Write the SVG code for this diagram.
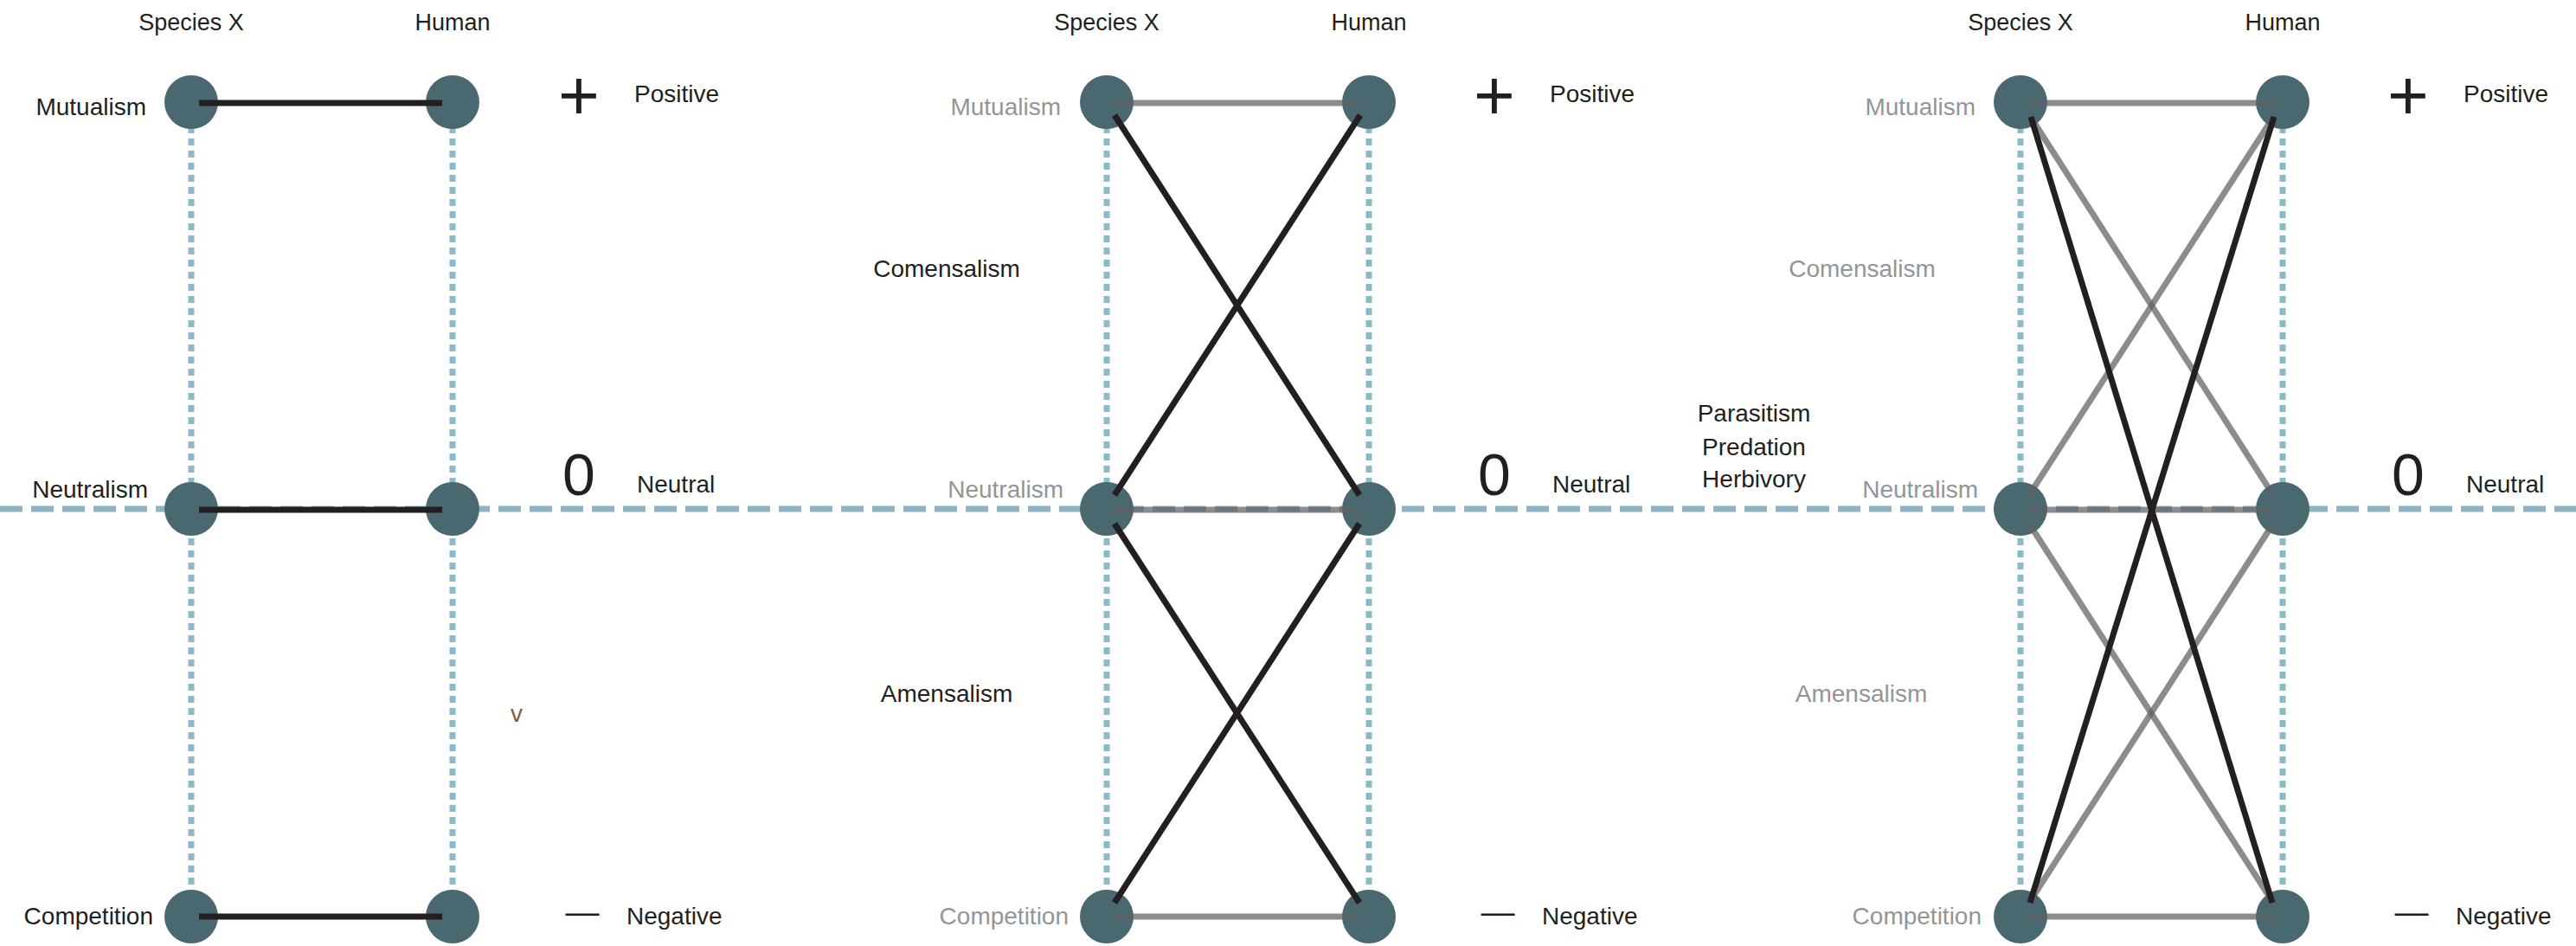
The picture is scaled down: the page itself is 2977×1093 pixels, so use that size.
<svg xmlns="http://www.w3.org/2000/svg" width="2977" height="1093" viewBox="0 0 2977 1093">
<style>
text{font-family:"Liberation Sans",Arial,sans-serif;fill:#231f20}
.hd{font-size:27px;text-anchor:middle}
.lb{font-size:28px;text-anchor:end}
.lbm{font-size:28px;text-anchor:middle}
.g{fill:#939598}
.rt{font-size:28px}
.sym{text-anchor:middle}
.node{fill:#4a6870}
.vdot{stroke:#8bbacb;stroke-width:7;stroke-dasharray:8 6;fill:none}
.hdash{stroke:#8fb4c1;stroke-width:7;stroke-dasharray:26 10;fill:none}
.blk{stroke:#231f20;stroke-width:7;fill:none}
.gry{stroke:#5f6062;stroke-opacity:0.72;stroke-width:7;fill:none}
</style>
<rect width="2977" height="1093" fill="#ffffff"/>
<g id="guides">
<line class="hdash" x1="0" y1="588" x2="2977" y2="588"/>
<line class="vdot" x1="221" y1="118" x2="221" y2="1059"/>
<line class="vdot" x1="523" y1="118" x2="523" y2="1059"/>
<line class="vdot" x1="1279" y1="118" x2="1279" y2="1059"/>
<line class="vdot" x1="1582" y1="118" x2="1582" y2="1059"/>
<line class="vdot" x1="2335" y1="118" x2="2335" y2="1059"/>
<line class="vdot" x1="2638" y1="118" x2="2638" y2="1059"/>
</g>
<g id="headers">
<text class="hd" x="221" y="35">Species X</text>
<text class="hd" x="523" y="35">Human</text>
<text class="hd" x="1279" y="35">Species X</text>
<text class="hd" x="1582" y="35">Human</text>
<text class="hd" x="2335" y="35">Species X</text>
<text class="hd" x="2638" y="35">Human</text>
</g>
<g id="scale1">
<text class="sym" x="669" y="138" font-size="82">+</text>
<text class="rt" x="733" y="118">Positive</text>
<text class="sym" x="669" y="572" font-size="68">0</text>
<text class="rt" x="736" y="569">Neutral</text>
<text class="sym" x="673" y="1067" font-size="39">—</text>
<text class="rt" x="724" y="1068">Negative</text>
</g>
<g id="scale2">
<text class="sym" x="1727" y="138" font-size="82">+</text>
<text class="rt" x="1791" y="118">Positive</text>
<text class="sym" x="1727" y="572" font-size="68">0</text>
<text class="rt" x="1794" y="569">Neutral</text>
<text class="sym" x="1731" y="1067" font-size="39">—</text>
<text class="rt" x="1782" y="1068">Negative</text>
</g>
<g id="scale3">
<text class="sym" x="2783" y="138" font-size="82">+</text>
<text class="rt" x="2847" y="118">Positive</text>
<text class="sym" x="2783" y="572" font-size="68">0</text>
<text class="rt" x="2850" y="569">Neutral</text>
<text class="sym" x="2787" y="1067" font-size="39">—</text>
<text class="rt" x="2838" y="1068">Negative</text>
</g>
<g id="p1-mutualism-x"><circle class="node" cx="221" cy="118" r="31"/><text class="lb" x="169" y="133">Mutualism</text></g>
<g id="p1-mutualism-h"><circle class="node" cx="523" cy="118" r="31"/></g>
<g id="p1-neutralism-x"><circle class="node" cx="221" cy="588" r="31"/><text class="lb" x="171" y="575">Neutralism</text></g>
<g id="p1-neutralism-h"><circle class="node" cx="523" cy="588" r="31"/></g>
<g id="p1-competition-x"><circle class="node" cx="221" cy="1059" r="31"/><text class="lb" x="177" y="1068">Competition</text></g>
<g id="p1-competition-h"><circle class="node" cx="523" cy="1059" r="31"/></g>
<text x="597" y="834" font-size="28" style="fill:#8a5a40;text-anchor:middle">v</text>
<g id="p2-mutualism-x"><circle class="node" cx="1279" cy="118" r="31"/><text class="lb g" x="1226" y="133">Mutualism</text></g>
<g id="p2-mutualism-h"><circle class="node" cx="1582" cy="118" r="31"/></g>
<g id="p2-neutralism-x"><circle class="node" cx="1279" cy="588" r="31"/><text class="lb g" x="1229" y="575">Neutralism</text></g>
<g id="p2-neutralism-h"><circle class="node" cx="1582" cy="588" r="31"/></g>
<g id="p2-competition-x"><circle class="node" cx="1279" cy="1059" r="31"/><text class="lb g" x="1235" y="1068">Competition</text></g>
<g id="p2-competition-h"><circle class="node" cx="1582" cy="1059" r="31"/></g>
<g id="p2-labels">
<text class="lbm" x="1094" y="320">Comensalism</text>
<text class="lbm" x="1094" y="811">Amensalism</text>
</g>
<g id="p3-mutualism-x"><circle class="node" cx="2335" cy="118" r="31"/><text class="lb g" x="2283" y="133">Mutualism</text></g>
<g id="p3-mutualism-h"><circle class="node" cx="2638" cy="118" r="31"/></g>
<g id="p3-neutralism-x"><circle class="node" cx="2335" cy="588" r="31"/><text class="lb g" x="2286" y="575">Neutralism</text></g>
<g id="p3-neutralism-h"><circle class="node" cx="2638" cy="588" r="31"/></g>
<g id="p3-competition-x"><circle class="node" cx="2335" cy="1059" r="31"/><text class="lb g" x="2290" y="1068">Competition</text></g>
<g id="p3-competition-h"><circle class="node" cx="2638" cy="1059" r="31"/></g>
<g id="p3-labels">
<text class="lbm g" x="2152" y="320">Comensalism</text>
<text class="lbm g" x="2151" y="811">Amensalism</text>
<text class="lbm" x="2027" y="487">Parasitism</text>
<text class="lbm" x="2027" y="526">Predation</text>
<text class="lbm" x="2027" y="563">Herbivory</text>
</g>
<g id="connectors">
<line class="blk" x1="230" y1="119" x2="511" y2="119"/>
<line class="blk" x1="230" y1="589" x2="511" y2="589"/>
<line class="blk" x1="230" y1="1059" x2="511" y2="1059"/>
<line class="gry" x1="1288" y1="119" x2="1570" y2="119"/>
<line class="gry" x1="1288" y1="589" x2="1570" y2="589"/>
<line class="gry" x1="1288" y1="1059" x2="1570" y2="1059"/>
<line class="blk" x1="1288" y1="133" x2="1571" y2="572"/>
<line class="blk" x1="1572" y1="133" x2="1288" y2="572"/>
<line class="blk" x1="1288" y1="605" x2="1571" y2="1043"/>
<line class="blk" x1="1571" y1="605" x2="1288" y2="1043"/>
<line class="gry" x1="2345" y1="119" x2="2627" y2="119"/>
<line class="gry" x1="2345" y1="589" x2="2627" y2="589"/>
<line class="gry" x1="2345" y1="1059" x2="2627" y2="1059"/>
<line class="gry" x1="2346" y1="134" x2="2627" y2="572"/>
<line class="gry" x1="2628" y1="134" x2="2345" y2="572"/>
<line class="gry" x1="2345" y1="605" x2="2627" y2="1043"/>
<line class="gry" x1="2627" y1="605" x2="2345" y2="1043"/>
<line class="blk" x1="2347" y1="135" x2="2626" y2="1043"/>
<line class="blk" x1="2628" y1="135" x2="2346" y2="1043"/>
</g>
</svg>
